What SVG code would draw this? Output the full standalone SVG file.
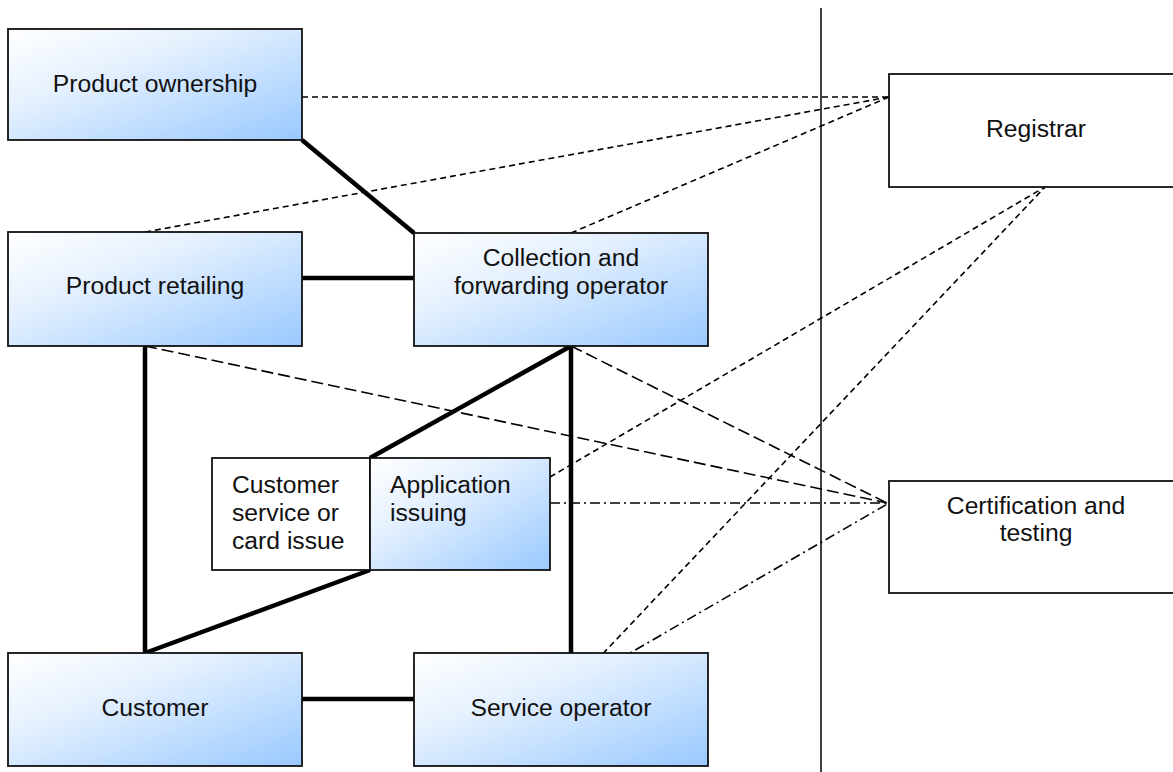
<svg xmlns="http://www.w3.org/2000/svg" width="1173" height="772" viewBox="0 0 1173 772">
<defs>
<linearGradient id="g" x1="0" y1="0" x2="1" y2="1">
<stop offset="0" stop-color="#ffffff"/>
<stop offset="0.35" stop-color="#e6f1fe"/>
<stop offset="1" stop-color="#99c9ff"/>
</linearGradient>
<style>
.b{fill:url(#g);stroke:#111;stroke-width:1.8}
.w{fill:#fff;stroke:#111;stroke-width:1.8}
text{font-family:"Liberation Sans",Arial,sans-serif;font-size:24.7px;fill:#111}
.c{text-anchor:middle}
.thick{stroke:#000;stroke-width:4.5;fill:none}
.sd{stroke:#000;stroke-width:1.6;stroke-dasharray:6,4;fill:none}
.ld{stroke:#000;stroke-width:1.6;stroke-dasharray:12,5;fill:none}
.dd{stroke:#000;stroke-width:1.6;stroke-dasharray:10,4,2,4;fill:none}
</style>
</defs>
<rect width="1173" height="772" fill="#fff"/>
<line x1="821" y1="8" x2="821" y2="772" stroke="#111" stroke-width="1.6"/>
<g id="connectors">
<line class="thick" x1="302" y1="140" x2="414" y2="233"/>
<line class="thick" x1="302" y1="278" x2="414" y2="278"/>
<line class="thick" x1="145" y1="346" x2="145" y2="660"/>
<line class="thick" x1="571" y1="346" x2="571" y2="660"/>
<line class="thick" x1="571" y1="346" x2="370" y2="458"/>
<line class="thick" x1="370" y1="570" x2="145" y2="653"/>
<line class="thick" x1="302" y1="699" x2="414" y2="699"/>
<line class="sd" x1="302" y1="97" x2="889" y2="97"/>
<line class="sd" x1="145" y1="232" x2="889" y2="97"/>
<line class="sd" x1="571" y1="233" x2="889" y2="97"/>
<line class="sd" x1="550" y1="477" x2="1045" y2="187"/>
<line class="sd" x1="596" y1="661" x2="1045" y2="187"/>
<line class="ld" x1="145" y1="346" x2="887" y2="503"/>
<line class="ld" x1="571" y1="346" x2="887" y2="503"/>
<line class="dd" x1="550" y1="503" x2="889" y2="503"/>
<line class="dd" x1="618" y1="660" x2="889" y2="503"/>
</g>
<g id="product-ownership">
<rect class="b" x="8" y="29" width="294" height="111"/>
<text class="c" x="155" y="92">Product ownership</text>
</g>
<g id="product-retailing">
<rect class="b" x="8" y="232" width="294" height="114"/>
<text class="c" x="155" y="294">Product retailing</text>
</g>
<g id="collection">
<rect class="b" x="414" y="233" width="294" height="113"/>
<text class="c" x="561" y="266">Collection and</text>
<text class="c" x="561" y="294">forwarding operator</text>
</g>
<g id="customer-service">
<rect class="w" x="212" y="458" width="158" height="112"/>
<text x="232" y="493">Customer</text>
<text x="232" y="521">service or</text>
<text x="232" y="549">card issue</text>
</g>
<g id="application-issuing">
<rect class="b" x="370" y="458" width="180" height="112"/>
<text x="390" y="493">Application</text>
<text x="390" y="521">issuing</text>
</g>
<g id="customer">
<rect class="b" x="8" y="653" width="294" height="113"/>
<text class="c" x="155" y="716">Customer</text>
</g>
<g id="service-operator">
<rect class="b" x="414" y="653" width="294" height="113"/>
<text class="c" x="561" y="716">Service operator</text>
</g>
<g id="registrar">
<rect class="w" x="889" y="74" width="294" height="113"/>
<text class="c" x="1036" y="137">Registrar</text>
</g>
<g id="certification">
<rect class="w" x="889" y="481" width="294" height="112"/>
<text class="c" x="1036" y="514">Certification and</text>
<text class="c" x="1036" y="541">testing</text>
</g>
</svg>
